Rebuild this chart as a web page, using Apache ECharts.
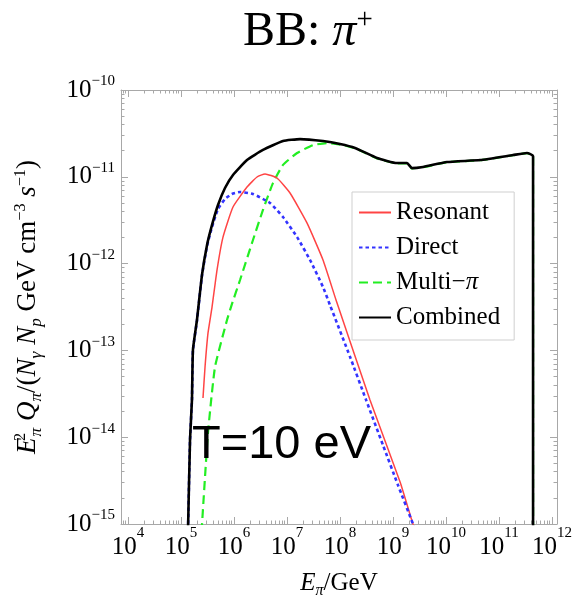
<!DOCTYPE html>
<html><head><meta charset="utf-8">
<script src="https://cdn.jsdelivr.net/npm/echarts@6/dist/echarts.min.js"></script>
<style>html,body{margin:0;padding:0;background:#fff}#c{width:572px;height:596px}</style>
</head><body><div id="c"></div>
<script>
// ---- data, E in GeV, Q in GeV cm^-3 s^-1 units ----
const xTickExponents = [4, 5, 6, 7, 8, 9, 10, 11, 12];
const yTickExponents = [-15, -14, -13, -12, -11, -10];

const resonantE = [2.60e5, 2.84e5, 3.23e5, 3.85e5, 4.78e5, 6.2e5, 9.57e5, 1.76e6, 2.72e6, 3.85e6, 6.47e6, 1.14e7, 2.38e7, 4.78e7, 8.41e7, 3.68e8, 1.36e9, 2.38e9, 2.72e9];
const resonantQ = [2.83e-14, 6.44e-14, 1.58e-13, 3.16e-13, 8.43e-13, 2.02e-12, 4.49e-12, 7.62e-12, 9.95e-12, 1.08e-11, 9.68e-12, 6.5e-12, 2.94e-12, 1.10e-12, 3.81e-13, 2.69e-14, 3.05e-15, 1.0e-15, 8.1e-16];

const directE = [1.34e5, 1.48e5, 1.61e5, 1.68e5, 2.0e5, 2.49e5, 3.1e5, 3.85e5, 4.99e5, 6.76e5, 9.16e5, 1.30e6, 2.28e6, 4.78e6, 8.41e6, 1.55e7, 2.72e7, 4.78e7, 6.47e7, 1.55e8, 3.1e8, 6.47e8, 1.24e9, 2.38e9, 2.72e9];
const directQ = [6e-16, 9.3e-15, 2.7e-14, 1.0e-13, 2.2e-13, 7.3e-13, 1.6e-12, 2.64e-12, 4.26e-12, 5.55e-12, 6.34e-12, 6.68e-12, 6.34e-12, 4.99e-12, 3.44e-12, 2.02e-12, 1.10e-12, 5.37e-13, 3.33e-13, 8.4e-14, 2.69e-14, 8.1e-15, 2.81e-15, 1.0e-15, 7.5e-16];

const multiE = [2.44e5, 3.23e5, 4.38e5, 7.38e5, 9.16e5, 1.30e6, 2.28e6, 3.52e6, 5.45e6, 8.41e6, 1.55e7, 3.1e7, 5.69e7, 1.14e8, 2.09e8, 4.99e8, 1.19e9, 1.84e9, 2.28e9, 3.68e9, 1.04e10, 4.39e10, 1.84e11, 3.37e11, 4.39e11, 4.39e11];
const multiQ = [8.1e-16, 1.12e-14, 6.44e-14, 2.24e-13, 3.43e-13, 6.47e-13, 1.87e-12, 4.15e-12, 8.5e-12, 1.37e-11, 1.88e-11, 2.32e-11, 2.45e-11, 2.32e-11, 2.09e-11, 1.63e-11, 1.43e-11, 1.43e-11, 1.25e-11, 1.29e-11, 1.47e-11, 1.55e-11, 1.77e-11, 1.87e-11, 1.73e-11, 5e-16];

const combinedE = [1.34e5, 1.48e5, 1.61e5, 1.68e5, 2.0e5, 2.49e5, 3.1e5, 3.85e5, 4.99e5, 6.76e5, 9.57e5, 1.76e6, 3.52e6, 8.41e6, 1.76e7, 4.78e7, 1.0e8, 1.92e8, 4.99e8, 1.19e9, 1.84e9, 2.28e9, 3.68e9, 1.04e10, 4.39e10, 1.84e11, 3.37e11, 4.39e11, 4.39e11];
const combinedQ = [6e-16, 9.3e-15, 2.7e-14, 1.01e-13, 2.24e-13, 7.4e-13, 1.64e-12, 2.79e-12, 4.73e-12, 7.43e-12, 1.05e-11, 1.56e-11, 2.04e-11, 2.58e-11, 2.72e-11, 2.58e-11, 2.39e-11, 2.15e-11, 1.65e-11, 1.44e-11, 1.44e-11, 1.26e-11, 1.30e-11, 1.48e-11, 1.56e-11, 1.78e-11, 1.88e-11, 1.74e-11, 5e-16];

const seriesNames = ['Resonant', 'Direct', 'Multi\u2212\u03c0', 'Combined'];

// ---- chart ----
const SERIF = 'Liberation Serif';
const X_MIN = 3.868, X_MAX = 12.094, Y_MIN = -15, Y_MAX = -10;
const GRID = {left: 121, top: 90, right: 15, bottom: 72};

function minorExps(lo, hi) {
  const out = [];
  for (let n = Math.floor(lo) - 1; n <= Math.ceil(hi); n++) {
    for (let k = 2; k <= 9; k++) {
      const v = n + Math.log10(k);
      if (v > lo && v < hi) out.push(v);
    }
  }
  return out;
}
const xMinor = minorExps(X_MIN, X_MAX);
const yMinor = minorExps(Y_MIN, Y_MAX);
const toPairs = (E, Q) => E.map((e, i) => [Math.log10(e), Math.log10(Q[i])]);

const FRAME = '#a8a8a8';
const xTickRich = {
  b: {fontFamily: SERIF, fontSize: 25, fontWeight: 'normal', color: '#000', verticalAlign: 'middle'},
  s: {fontFamily: SERIF, fontSize: 15, fontWeight: 'normal', color: '#000', padding: [0, 0, 27, 0], verticalAlign: 'middle'}
};
const yTickRich = {
  b: {fontFamily: SERIF, fontSize: 25, fontWeight: 'normal', color: '#000', verticalAlign: 'middle'},
  s: {fontFamily: SERIF, fontSize: 15, fontWeight: 'normal', color: '#000', padding: [0, 0, 17, 0], verticalAlign: 'middle'}
};
function nameRich(fs) {
  return {
    r: {fontFamily: SERIF, fontSize: fs, fontWeight: 'normal', color: '#000', verticalAlign: 'middle'},
    i: {fontFamily: SERIF, fontSize: fs, fontStyle: 'italic', fontWeight: 'normal', color: '#000', verticalAlign: 'middle'},
    sup: {fontFamily: SERIF, fontSize: fs * 0.6, fontWeight: 'normal', color: '#000', padding: [0, 0, fs * 0.56, 0], verticalAlign: 'middle'},
    sup0: {fontFamily: SERIF, fontSize: fs * 0.6, fontWeight: 'normal', color: '#000', padding: [0, 0, fs * 0.56, 0], verticalAlign: 'middle', width: 1},
    sub: {fontFamily: SERIF, fontSize: fs * 0.64, fontStyle: 'italic', fontWeight: 'normal', color: '#000', padding: [fs * 0.64, 0, 0, 0], verticalAlign: 'middle'}
  };
}

function xAx(gridIndex, position, major, withLabel) {
  const a = {
    type: 'value', gridIndex, position, min: X_MIN, max: X_MAX,
    axisLine: {show: major, lineStyle: {color: FRAME, width: 1}},
    axisTick: {show: true, inside: true, length: major ? 7 : 3.5, customValues: major ? xTickExponents : xMinor, lineStyle: {color: FRAME, width: 1}},
    axisLabel: {show: withLabel},
    splitLine: {show: false}
  };
  if (withLabel) {
    a.axisLabel = {show: true, customValues: xTickExponents, margin: 2, formatter: v => '{b|10}{s|' + v + '}', rich: xTickRich};
    a.name = '{i|E}{sub|\u03c0}{r|/GeV}';
    a.nameLocation = 'middle';
    a.nameGap = 43;
    a.nameTextStyle = {rich: nameRich(25)};
  }
  return a;
}
function yAx(gridIndex, position, major, withLabel) {
  const a = {
    type: 'value', gridIndex, position, min: Y_MIN, max: Y_MAX,
    axisLine: {show: major, lineStyle: {color: FRAME, width: 1}},
    axisTick: {show: true, inside: true, length: major ? 7 : 3.5, customValues: major ? yTickExponents : yMinor, lineStyle: {color: FRAME, width: 1}},
    axisLabel: {show: withLabel},
    splitLine: {show: false}
  };
  if (withLabel) {
    a.axisLabel = {show: true, customValues: yTickExponents, margin: 6, formatter: v => '{b|10}{s|\u2212' + (-v) + '}', rich: yTickRich};
    a.name = '{i|E}{sup0|2}{sub|\u03c0}{r| }{i|Q}{sub|\u03c0}{r|/(}{i|N}{sub|\u03b3}{r| }{i|N}{sub|p}{r| GeV cm}{sup|\u22123}{r| }{i|s}{sup|\u22121}{r|)}';
    a.nameLocation = 'middle';
    a.nameGap = 76;
    a.nameTextStyle = {rich: nameRich(27)};
  }
  return a;
}

const chart = echarts.init(document.getElementById('c'), null, {renderer: 'canvas'});
const lineBase = {type: 'line', xAxisIndex: 0, yAxisIndex: 0, symbol: 'none', showSymbol: false, smooth: 0.15, clip: true, animation: false};

chart.setOption({
  animation: false,
  backgroundColor: '#fff',
  title: {
    text: '{a|BB: }{i|\u03c0}{s|+}',
    left: 243, top: 6, padding: 0,
    textStyle: {
      fontWeight: 'normal',
      rich: {
        a: {fontFamily: SERIF, fontSize: 48, fontWeight: 'normal', color: '#000', verticalAlign: 'middle'},
        i: {fontFamily: SERIF, fontSize: 48, fontStyle: 'italic', fontWeight: 'normal', color: '#000', verticalAlign: 'middle'},
        s: {fontFamily: SERIF, fontSize: 29, fontWeight: 'normal', color: '#000', padding: [0, 0, 24, 0], verticalAlign: 'middle'}
      }
    }
  },
  grid: [
    Object.assign({outerBoundsMode: 'none', containLabel: false}, GRID),
    Object.assign({outerBoundsMode: 'none', containLabel: false}, GRID)
  ],
  xAxis: [xAx(0, 'bottom', true, true), xAx(0, 'top', true, false), xAx(1, 'bottom', false, false), xAx(1, 'top', false, false)],
  yAxis: [yAx(0, 'left', true, true), yAx(0, 'right', true, false), yAx(1, 'left', false, false), yAx(1, 'right', false, false)],
  legend: {
    orient: 'vertical', left: 352, top: 192,
    padding: [8, 14, 10, 6], itemGap: 10, itemWidth: 32, itemHeight: 14,
    backgroundColor: '#fff', borderColor: '#cfcfcf', borderWidth: 1, borderRadius: 0,
    itemStyle: {opacity: 0},
    data: seriesNames,
    formatter: n => n === seriesNames[2] ? '{r|Multi\u2212}{i|\u03c0}' : '{r|' + n + '}',
    textStyle: {
      rich: {
        r: {fontFamily: SERIF, fontSize: 25, color: '#000'},
        i: {fontFamily: SERIF, fontSize: 25, fontStyle: 'italic', color: '#000'}
      }
    }
  },
  graphic: [{
    type: 'text', left: 192, top: 422, z: 100,
    style: {text: 'T=10 eV', font: '47px "Liberation Sans"', fill: '#000'}
  }],
  series: [
    Object.assign({}, lineBase, {name: seriesNames[2], data: toPairs(multiE, multiQ), lineStyle: {color: '#22ee22', width: 2.2, type: [9, 5]}, itemStyle: {color: '#22ee22'}, z: 2}),
    Object.assign({}, lineBase, {name: seriesNames[0], data: toPairs(resonantE, resonantQ), lineStyle: {color: '#ff4444', width: 1.5, type: 'solid'}, itemStyle: {color: '#ff4444'}, z: 3}),
    Object.assign({}, lineBase, {name: seriesNames[1], data: toPairs(directE, directQ), lineStyle: {color: '#3333ff', width: 2.6, type: [3.5, 3]}, itemStyle: {color: '#3333ff'}, z: 4}),
    Object.assign({}, lineBase, {name: seriesNames[3], data: toPairs(combinedE, combinedQ), lineStyle: {color: '#000', width: 2.6, type: 'solid'}, itemStyle: {color: '#000'}, z: 5})
  ]
});
</script>
</body></html>
